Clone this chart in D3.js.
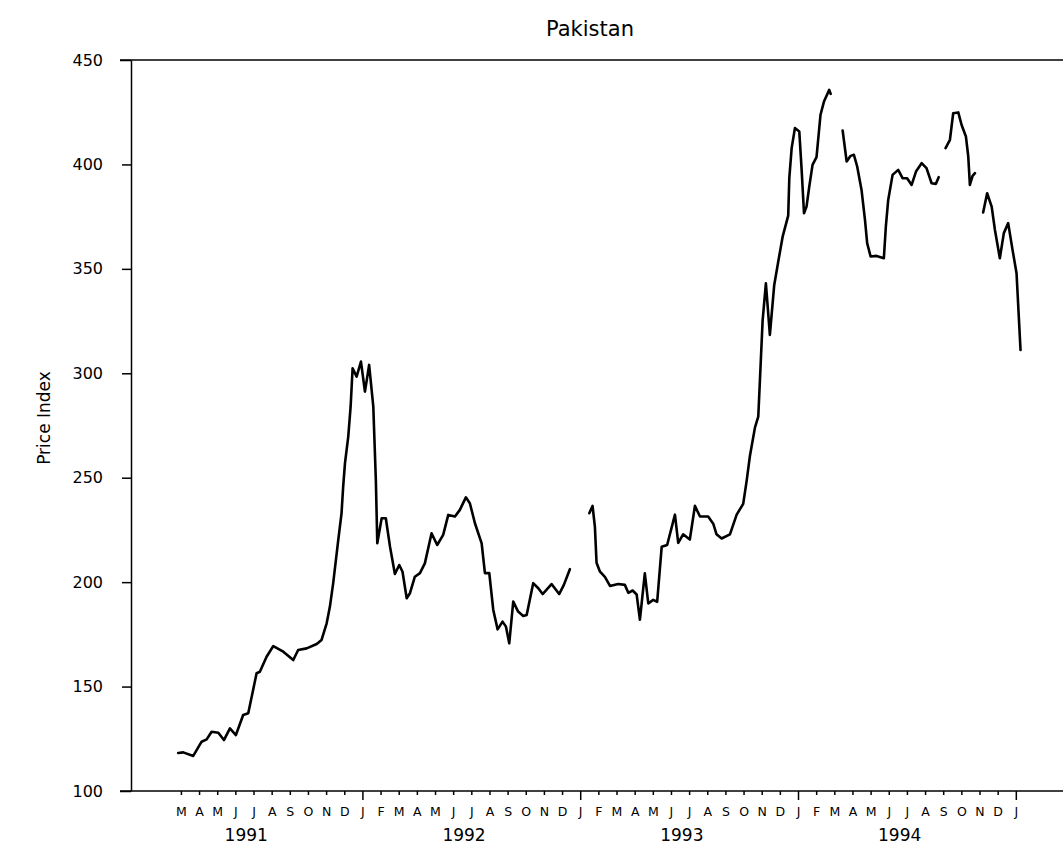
<!DOCTYPE html>
<html lang="en">
<head>
<meta charset="UTF-8">
<title>Pakistan Price Index</title>
<script src="https://d3js.org/d3.v7.min.js"></script>
<style>
  body { margin: 0; background: #fff; }
  text { font-family: "DejaVu Sans", sans-serif; fill: #000; }
  .axis path, .axis line { stroke: #000; stroke-width: 1.5; }
  .series { fill: none; stroke: #000; stroke-width: 2.6; stroke-linejoin: round; stroke-linecap: round; }
</style>
</head>
<body>
<svg width="1063" height="856"></svg>
<script>
// time in months from the start of Jan 1991 (2.5 = mid March 1991)
const monthPos = [
  // Mar 1991 - Dec 1992
  2.35, 2.63, 3.18, 3.64, 3.92, 4.19, 4.56, 4.87, 5.20, 5.53, 5.93, 6.21, 6.67, 6.85, 7.22, 7.59,
  8.14, 8.69, 8.96, 9.43, 9.98, 10.25, 10.53, 10.71, 10.89, 11.17, 11.35, 11.44, 11.54, 11.72, 11.85,
  11.96, 12.18, 12.42, 12.64, 12.87, 13.10, 13.24, 13.32, 13.56, 13.79, 14.02, 14.29, 14.53, 14.71,
  14.94, 15.12, 15.39, 15.67, 15.94, 16.31, 16.62, 16.95, 17.23, 17.60, 17.87, 18.20, 18.42, 18.70,
  19.07, 19.25, 19.49, 19.71, 19.95, 20.22, 20.41, 20.59, 20.81, 21.08, 21.36, 21.55, 21.91, 22.19,
  22.43, 22.92, 23.34, 23.60, 23.93,
  24.5,
  // Jan 1993 - Feb 1994
  25.00, 25.18, 25.31, 25.40, 25.59, 25.86, 26.14, 26.59, 26.96, 27.15, 27.39, 27.61, 27.79, 28.06,
  28.25, 28.52, 28.74, 28.99, 29.29, 29.72, 29.90, 30.17, 30.54, 30.82, 31.10, 31.55, 31.83, 32.01,
  32.29, 32.75, 33.12, 33.48, 33.67, 33.85, 34.13, 34.31, 34.40, 34.55, 34.73, 34.95, 35.19, 35.41,
  35.65, 35.96, 36.02, 36.15, 36.33, 36.57, 36.70, 36.83, 36.97, 37.12, 37.30, 37.52, 37.74, 37.93,
  38.22, 38.30,
  38.6,
  // Mar 1994 - Aug 1994
  38.96, 39.18, 39.40, 39.58, 39.76, 40.00, 40.19, 40.31, 40.50, 40.83, 41.23, 41.34, 41.47, 41.71,
  42.02, 42.26, 42.51, 42.76, 43.00, 43.31, 43.58, 43.86, 44.10, 44.25,
  44.4,
  // Sep - Oct 1994
  44.63, 44.87, 45.05, 45.33, 45.51, 45.75, 45.88, 45.97, 46.12, 46.25,
  46.5,
  // Nov 1994 - Jan 1995
  46.70, 46.92, 47.17, 47.35, 47.62, 47.84, 48.08, 48.32, 48.54, 48.76
];

// null marks a break in the series
const priceIndex = [
  118.2, 118.5, 116.8, 123.6, 124.7, 128.4, 127.9, 124.4, 130.0, 126.8, 136.4, 137.2, 156.4, 157.1, 164.3, 169.4,
  166.7, 162.7, 167.5, 168.3, 170.4, 172.3, 180.3, 188.3, 199.5, 220.2, 233.0, 245.7, 257.0, 269.7, 284.0,
  302.4, 298.4, 305.6, 291.2, 304.0, 284.0, 249.0, 218.6, 230.6, 230.6, 217.0, 203.9, 208.2, 205.0,
  192.3, 194.7, 202.6, 204.3, 209.0, 223.4, 217.8, 222.6, 232.2, 231.4, 234.6, 240.6, 237.8, 228.2,
  218.6, 204.3, 204.3, 186.7, 177.4, 181.1, 178.7, 170.7, 190.7, 185.9, 183.8, 184.3, 199.5, 197.1,
  194.3, 199.1, 194.3, 198.7, 206.2,
  null,
  233.0, 236.5, 226.4, 209.3, 205.0, 202.5, 198.2, 199.1, 198.7, 194.9, 196.0, 194.1, 182.0, 204.2,
  189.8, 191.5, 190.6, 217.0, 217.8, 232.3, 218.8, 222.9, 220.4, 236.5, 231.4, 231.4, 228.0, 222.9,
  220.9, 222.9, 232.3, 237.5, 248.5, 260.4, 274.1, 279.2, 296.3, 325.2, 343.1, 318.4, 342.3, 353.4,
  365.3, 375.5, 393.4, 407.8, 417.4, 415.8, 397.4, 376.6, 379.8, 389.4, 399.8, 403.5, 423.8, 430.1,
  435.7, 433.8,
  null,
  416.2, 401.4, 404.1, 404.6, 399.0, 387.8, 373.5, 362.3, 355.9, 356.2, 355.1, 370.3, 383.0, 395.0,
  397.4, 393.4, 393.4, 390.2, 396.6, 400.6, 398.2, 391.0, 390.7, 393.9,
  null,
  407.8, 411.8, 424.5, 424.9, 419.0, 413.4, 403.8, 390.2, 394.5, 395.8,
  null,
  377.0, 386.2, 379.8, 368.6, 355.1, 367.1, 371.9, 359.1, 347.9, 311.2
];

const yTicks = [100, 150, 200, 250, 300, 350, 400, 450];
const monthLetters = ['J', 'F', 'M', 'A', 'M', 'J', 'J', 'A', 'S', 'O', 'N', 'D'];
const firstMonth = 2;   // March 1991
const lastMonth = 48;   // January 1995
const years = [1991, 1992, 1993, 1994];

const svg = d3.select('svg');
const plotLeft = 131, plotRight = 1063, plotTop = 60, plotBottom = 791;

const x = d3.scaleLinear().domain([-0.25, 51.1]).range([plotLeft, plotRight]);
const y = d3.scaleLinear().domain([100, 450]).range([plotBottom, plotTop]);

// title and y label
svg.append('text')
  .attr('x', 590).attr('y', 36)
  .attr('text-anchor', 'middle')
  .style('font-size', '21px')
  .text('Pakistan');

svg.append('text')
  .attr('transform', `translate(50,418) rotate(-90)`)
  .attr('text-anchor', 'middle')
  .style('font-size', '17px')
  .text('Price Index');

// y axis
const yAxis = svg.append('g')
  .attr('class', 'axis')
  .attr('transform', `translate(${plotLeft},0)`)
  .call(d3.axisLeft(y).tickValues(yTicks).tickSize(10).tickSizeOuter(0).tickPadding(18));
yAxis.selectAll('text').style('font-size', '16px');
yAxis.selectAll('line').attr('x2', d => (d === 100 || d === 450) ? -11 : -9);

// top frame line
svg.append('line')
  .attr('x1', plotLeft - 11).attr('x2', plotRight)
  .attr('y1', plotTop).attr('y2', plotTop)
  .attr('stroke', '#000').attr('stroke-width', 1.5);

// x axis: one tick per month, letters underneath
const monthTicks = d3.range(firstMonth, lastMonth + 1).map(m => m + 0.5);
const xAxis = svg.append('g')
  .attr('class', 'axis')
  .attr('transform', `translate(0,${plotBottom})`)
  .call(d3.axisBottom(x)
    .tickValues(monthTicks)
    .tickSize(4)
    .tickSizeOuter(0)
    .tickPadding(12)
    .tickFormat(d => monthLetters[Math.floor(d) % 12]));
xAxis.select('.domain').attr('d', `M${plotLeft - 11},0H${plotRight}`);
xAxis.selectAll('text').style('font-size', '12.5px');
xAxis.selectAll('line').attr('y2', d => Math.floor(d) % 12 === 0 ? 9 : 4);

// year labels
svg.append('g')
  .selectAll('text')
  .data(years)
  .join('text')
  .attr('x', d => x(12 * (d - 1991) + 6.1))
  .attr('y', 841)
  .attr('text-anchor', 'middle')
  .style('font-size', '17px')
  .text(d => d);

// price line, broken where data is missing
const points = monthPos.map((m, i) => ({ m: m, v: priceIndex[i] }));
const line = d3.line()
  .defined(d => d.v !== null)
  .x(d => x(d.m))
  .y(d => y(d.v))
  .curve(d3.curveLinear);

svg.append('path')
  .datum(points)
  .attr('class', 'series')
  .attr('d', line);
</script>
</body>
</html>
